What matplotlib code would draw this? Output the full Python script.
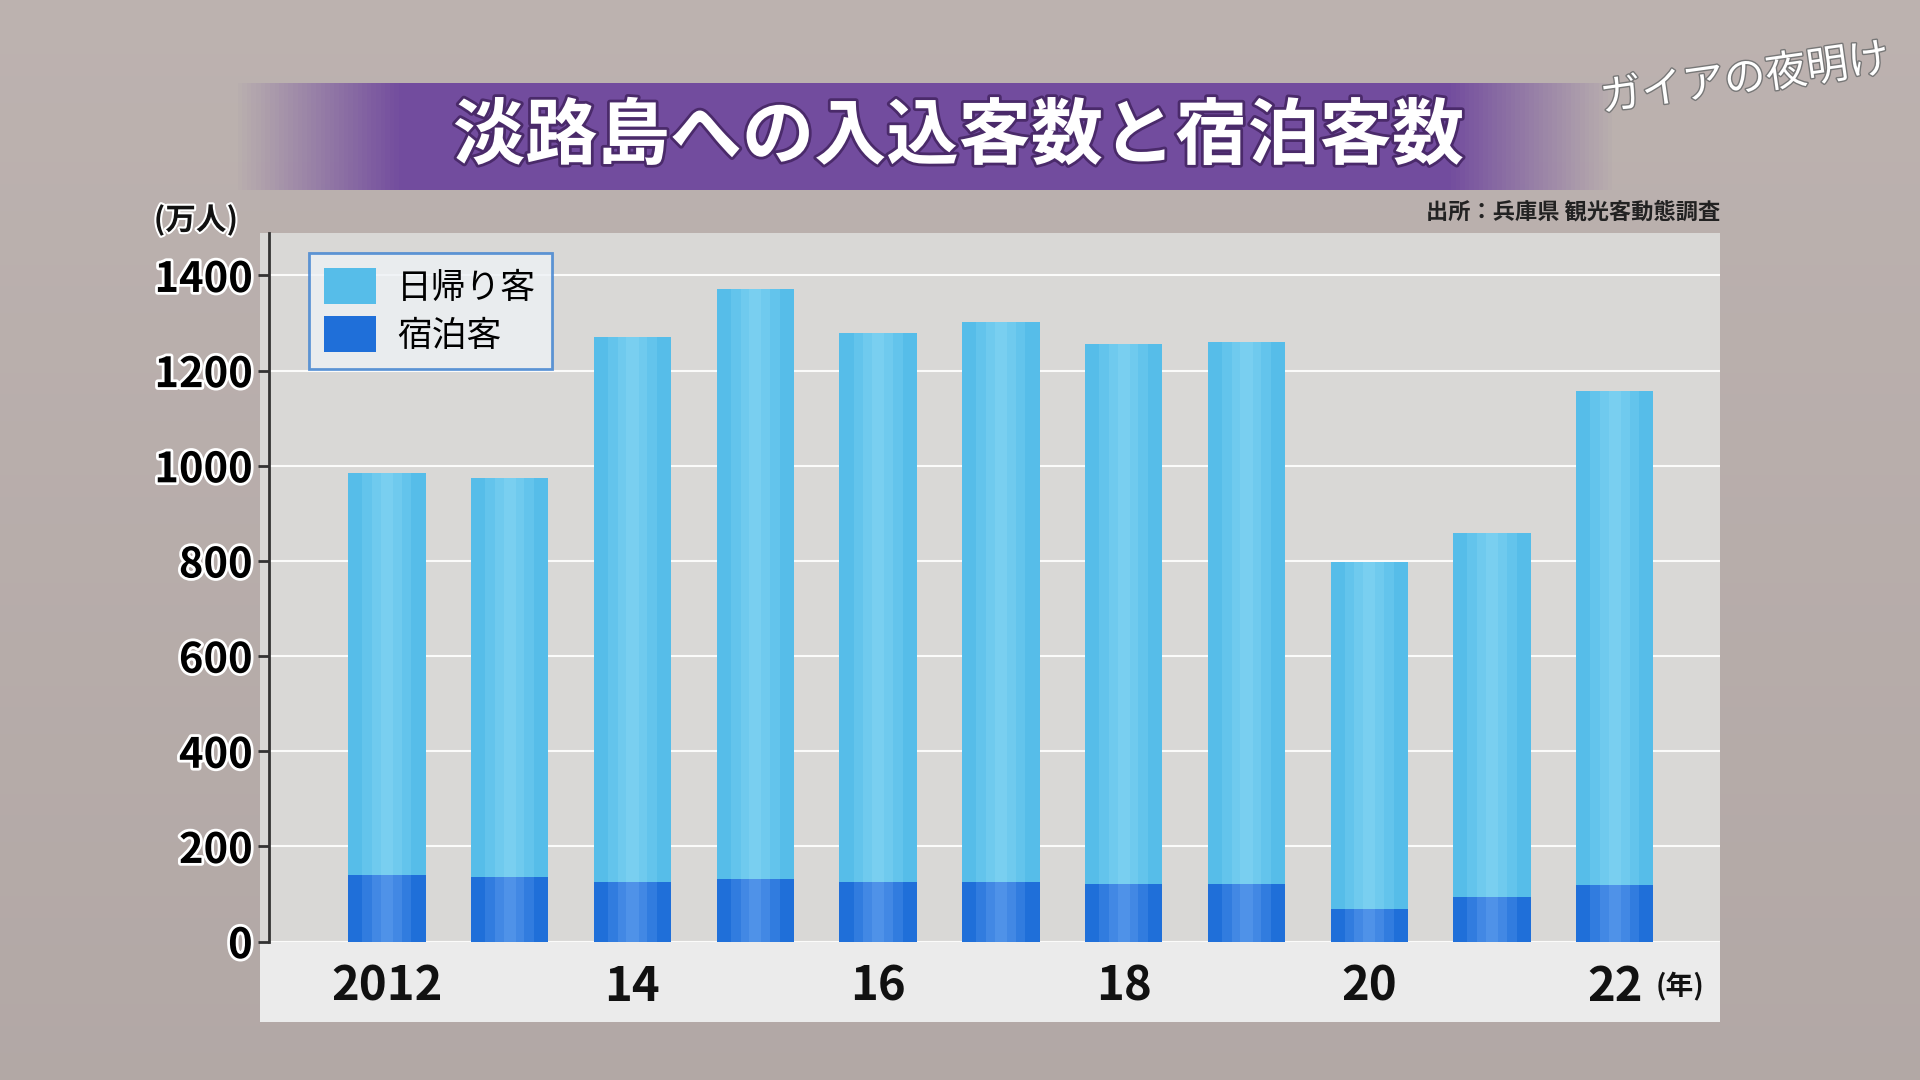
import numpy as np
import matplotlib
matplotlib.use('Agg')
import matplotlib.pyplot as plt
from matplotlib.patches import Rectangle
import matplotlib.patheffects as pe

plt.rcParams['font.family'] = 'Noto Sans CJK JP'

# ── Data (万人) ──
years = [2012, 2013, 2014, 2015, 2016, 2017, 2018, 2019, 2020, 2021, 2022]
xlabels = ['2012', '', '14', '', '16', '', '18', '', '20', '', '22']
total = [985, 975, 1271, 1372, 1279, 1302, 1256, 1261, 798, 859, 1158]
stay = [139, 136, 126, 131, 126, 126, 121, 121, 69, 93, 118]
day = [t - s for t, s in zip(total, stay)]
yticks = [0, 200, 400, 600, 800, 1000, 1200, 1400]

W, H = 1568, 882
fig = plt.figure(figsize=(19.2, 10.8), dpi=100)

def fx(px): return px / W
def fy(py): return 1 - py / H

# background gradient
bg = fig.add_axes([0, 0, 1, 1]); bg.set_axis_off()
g = np.linspace(0, 1, 200).reshape(-1, 1)
bg.imshow(np.dstack([0.74 - 0.04 * g, 0.70 - 0.04 * g, 0.69 - 0.04 * g]),
          extent=[0, 1, 0, 1], aspect='auto', zorder=0)
bg.set_xlim(0, 1); bg.set_ylim(0, 1)

# title banner (purple gradient)
gx = np.linspace(0, 1, 300)
alpha = np.clip(np.minimum(gx / 0.12, (1 - gx) / 0.12), 0, 1)
band = np.zeros((1, 300, 4))
band[0, :, 0] = 0.45; band[0, :, 1] = 0.30; band[0, :, 2] = 0.62; band[0, :, 3] = alpha
bg.imshow(band, extent=[fx(190), fx(1320), fy(155), fy(68)], aspect='auto', zorder=1)
bg.text(fx(783), fy(112), '淡路島への入込客数と宿泊客数', ha='center', va='center',
        fontsize=52, fontweight='bold', color='white', zorder=2,
        path_effects=[pe.withStroke(linewidth=4, foreground='#4a2a6a')])

# plot frame and x label band
bg.add_patch(Rectangle((fx(212), fy(835)), fx(1405) - fx(212), fy(190) - fy(835),
                       fc='#d9d8d6', ec='none', zorder=1))
bg.add_patch(Rectangle((fx(212), fy(835)), fx(1405) - fx(212), fy(769) - fy(835),
                       fc='#ebebeb', ec='none', zorder=1))

bg.text(fx(1405), fy(173), '出所：兵庫県 観光客動態調査', ha='right', va='center',
        fontsize=16, fontweight='bold', color='#222', zorder=2)
bg.text(fx(160), fy(180), '(万人)', ha='center', va='center',
        fontsize=22, fontweight='bold', color='#111', zorder=2,
        path_effects=[pe.withStroke(linewidth=3, foreground='white')])
bg.text(fx(1425), fy(65), 'ガイアの夜明け', ha='center', va='center', fontsize=30,
        fontstyle='italic', color='white', rotation=8, zorder=2,
        path_effects=[pe.withStroke(linewidth=2, foreground='#777')])

# main axes
ax = fig.add_axes([fx(220), fy(769), fx(1405) - fx(220), fy(190) - fy(769)])
ax.set_facecolor('none')
x = np.arange(len(years))
ax.bar(x, stay, width=0.63, color='#1f6fd9', zorder=3)
ax.bar(x, day, bottom=stay, width=0.63, color='#56bde9', zorder=3)
# soft highlight in bar centres
for w, a in [(0.40, 0.25), (0.24, 0.3), (0.10, 0.35)]:
    ax.bar(x, stay, width=w, color='#6aa6f2', alpha=a, zorder=4)
    ax.bar(x, day, bottom=stay, width=w, color='#8cd9f5', alpha=a, zorder=4)

ax.set_xlim(-0.957, 10.86)
ax.set_ylim(0, 1490)
ax.set_yticks(yticks)
ax.set_yticklabels([str(v) for v in yticks], fontsize=30, fontweight='bold')
for t in ax.get_yticklabels():
    t.set_path_effects([pe.withStroke(linewidth=4, foreground='white')])
ax.tick_params(axis='y', length=8, width=2, color='#333', pad=4)
ax.set_xticks([])
ax.grid(axis='y', color='white', lw=1.5, alpha=0.9, zorder=1)
for s in ['top', 'right', 'bottom']:
    ax.spines[s].set_visible(False)
ax.spines['left'].set_color('#333'); ax.spines['left'].set_linewidth(2)

for xi, lab in zip(x, xlabels):
    if lab:
        ax.text(xi, -95, lab, ha='center', va='center', fontsize=34,
                fontweight='bold', color='#111', clip_on=False)
ax.text(10.33, -95, '(年)', ha='left', va='center', fontsize=20,
        fontweight='bold', color='#111', clip_on=False)

# legend
h1 = Rectangle((0, 0), 1, 1, fc='#56bde9')
h2 = Rectangle((0, 0), 1, 1, fc='#1f6fd9')
leg = ax.legend([h1, h2], ['日帰り客', '宿泊客'], loc='upper left',
                bbox_to_anchor=(0.027, 0.972), borderaxespad=0, fontsize=25,
                frameon=True, fancybox=False, handlelength=1.5, handleheight=1.2,
                handletextpad=0.6, borderpad=0.45, labelspacing=0.3)
leg.get_frame().set_edgecolor('#3a7fd0'); leg.get_frame().set_linewidth(2)
leg.get_frame().set_facecolor('#eef2f5')

fig.savefig('out.png', dpi=100)
